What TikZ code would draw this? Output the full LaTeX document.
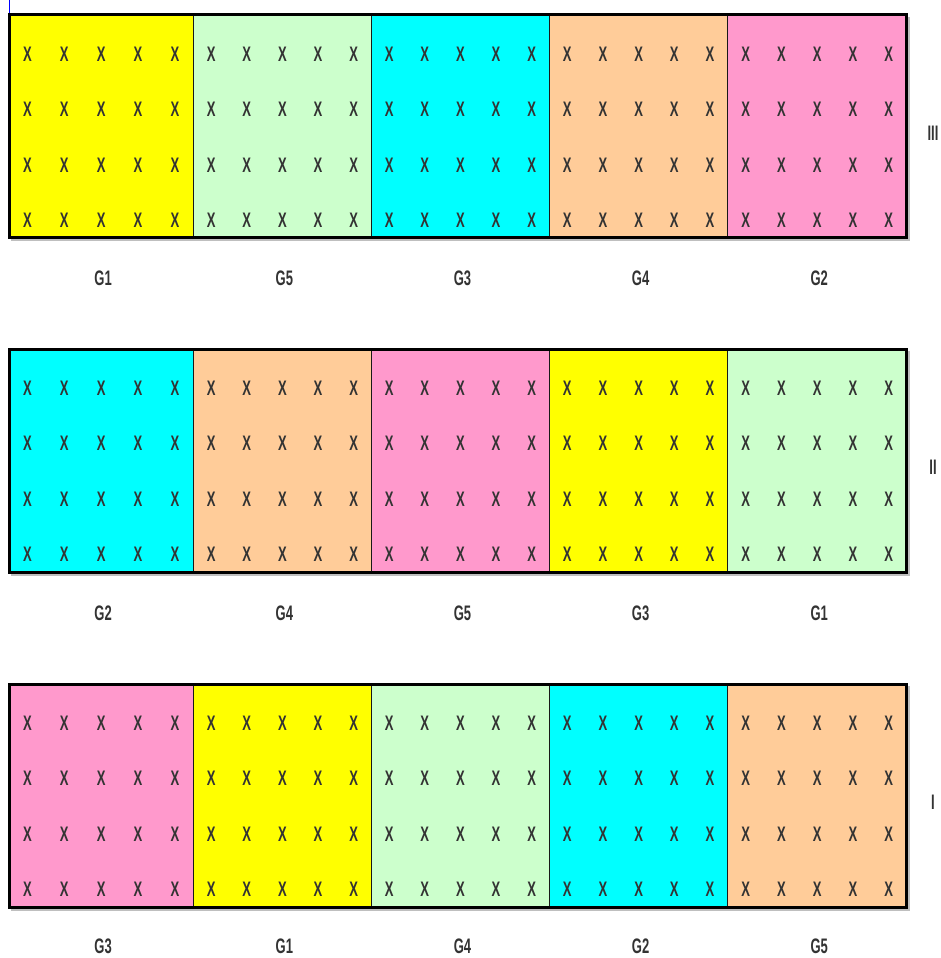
\documentclass[tikz,border=0pt]{standalone}
\usepackage{fontspec}
\newfontfamily\plotfont[FakeStretch=0.62]{Liberation Sans Bold}
\definecolor{GrpYellow}{RGB}{255,255,0}
\definecolor{GrpMint}{RGB}{204,255,204}
\definecolor{GrpAqua}{RGB}{0,255,255}
\definecolor{GrpPeach}{RGB}{255,204,153}
\definecolor{GrpRose}{RGB}{255,153,204}
\begin{document}
\begin{tikzpicture}[x=1pt,y=-1pt,
  plot/.style={font=\plotfont\fontsize{21}{23}\selectfont,text=black!80,inner sep=0pt},
  frame/.style={line width=3pt},
  divider/.style={line width=1.2pt,black!90},
  shade/.style={black!25,line width=2pt}]
\useasboundingbox (0,0) rectangle (940,958);
\draw[blue,line width=0.8pt] (9,0) -- (9,15);
% block III
\foreach \a/\b/\c/\g [count=\i] in %
{9/193.3/GrpYellow/G1,193.3/371.4/GrpMint/G5,371.4/549.5/GrpAqua/G3,549.5/727.7/GrpPeach/G4,727.7/906.7/GrpRose/G2} {
   \fill[\c] (\a,15) rectangle (\b,237);
   \node[plot] (c3-\i) at ({(\a+\b)/2+2},278) {\g};
}
% block II
\foreach \a/\b/\c/\g [count=\i] in %
{9/193.3/GrpAqua/G2,193.3/371.4/GrpPeach/G4,371.4/549.5/GrpRose/G5,549.5/727.7/GrpYellow/G3,727.7/906.7/GrpMint/G1} {
   \fill[\c] (\a,349) rectangle (\b,572);
   \node[plot] (c2-\i) at ({(\a+\b)/2+2},613) {\g};
}
% block I
\foreach \a/\b/\c/\g [count=\i] in %
{9/193.3/GrpRose/G3,193.3/371.4/GrpYellow/G1,371.4/549.5/GrpMint/G4,549.5/727.7/GrpAqua/G2,727.7/906.7/GrpPeach/G5} {
   \fill[\c] (\a,684) rectangle (\b,907);
   \node[plot] (c1-\i) at ({(\a+\b)/2+2},946) {\g};
}
% marks, frames and numerals
\foreach \t/\n/\m [count=\r] in {15/237/III,349/572/II,684/907/I} {
   \foreach \a/\b [count=\i] in {9/193.3,193.3/371.4,371.4/549.5,549.5/727.7,727.7/906.7} {
      \foreach \j in {0,...,4} {
         \foreach \k in {0,...,3} {
            \node[plot] (x\r-\i-\j-\k) at ({\a+(\j+0.5)*(\b-\a)/5},{\t+39+55.5*\k}) {X};
         }
      }
      \draw[divider] (\b,\t) -- (\b,\n);
   }
   \draw[shade] (11,\n+3) -- (909,\n+3) -- (909,\t+2);
   \draw[frame] (9,\t) rectangle (906.7,\n);
   \node[plot] (row\r) at (933,{(\t+\n)/2+7}) {\m};
}
\end{tikzpicture}
\end{document}
